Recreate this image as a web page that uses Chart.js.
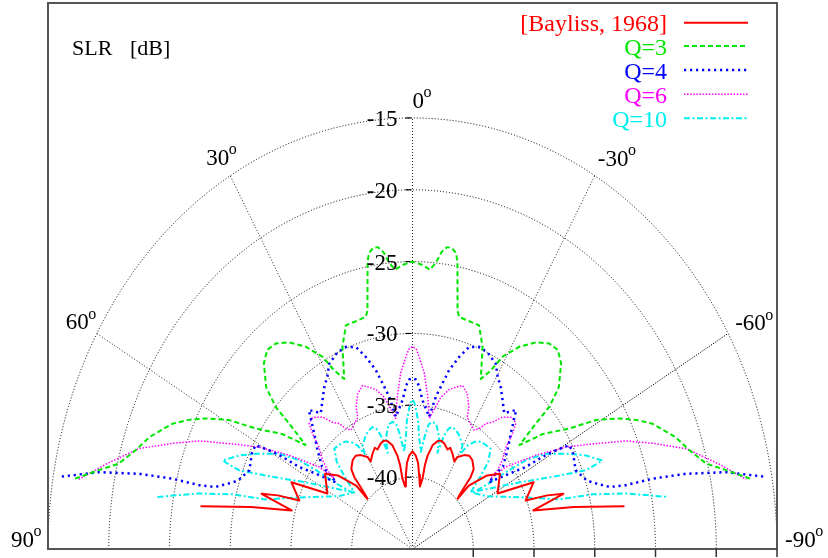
<!DOCTYPE html>
<html>
<head>
<meta charset="utf-8">
<script src="https://cdn.jsdelivr.net/npm/chart.js@4/dist/chart.umd.min.js"></script>
<style>
  html, body { margin: 0; padding: 0; background: #ffffff; }
  canvas { display: block; }
</style>
</head>
<body>
<canvas id="slr" width="828" height="558"></canvas>
<script>
// Side-lobe ratio (dB) against scan angle (deg), plotted in polar form.
// Radius is SLR measured from -45 dB at the pole; positive angles open to the left.
const R_MIN = -45;

const ringValues = [-40, -35, -30, -25, -20, -15];
const ringLabels = ['-40', '-35', '-30', '-25', '-20', '-15'];
const spokeAngles = [60, 30, 0, -30, -60];
const angleTicks = [0, 30, 60, 90, -30, -60, -90];
const angleTickLabels = ['0', '30', '60', '90', '-30', '-60', '-90'];
const seriesNames = ['[Bayliss, 1968]', 'Q=3', 'Q=4', 'Q=6', 'Q=10'];

const baylissAngle = [80.3, 77.6, 74.9, 72.8, 71.4, 70.1, 65.0, 61.1, 54.0, 50.2, 46.4, 46.7, 45.8, 44.2, 43.8, 42.2, 38.6, 35.8, 33.1, 30.0, 29.5, 26.4, 23.8, 22.6, 19.6, 17.3, 15.4, 12.9, 10.8, 9.9, 9.6, 8.0, 6.0, 4.4, 2.4,
  0,
  -2.4, -4.4, -6.0, -8.0, -9.6, -9.9, -10.8, -12.9, -15.4, -17.3, -19.6, -22.6, -23.8, -26.4, -29.5, -30.0, -33.1, -35.8, -38.6, -42.2, -43.8, -44.2, -45.8, -46.7, -46.4, -50.2, -54.0, -61.1, -65.0, -70.1, -71.4, -72.8, -74.9, -77.6, -80.3];
const baylissSlr = [-27.3, -31.4, -34.7, -32.0, -33.3, -35.1, -34.0, -37.0, -36.1, -37.0, -38.6, -39.9, -39.6, -38.5, -38.1, -37.5, -37.1, -37.0, -37.2, -37.6, -38.0, -37.6, -37.3, -37.5, -37.2, -37.1, -37.2, -37.6, -38.4, -39.1, -40.0, -40.6, -39.8, -39.0, -38.5,
  -38.2,
  -38.5, -39.0, -39.8, -40.6, -40.0, -39.1, -38.4, -37.6, -37.2, -37.1, -37.2, -37.5, -37.3, -37.6, -38.0, -37.6, -37.2, -37.0, -37.1, -37.5, -38.1, -38.5, -39.6, -39.9, -38.6, -37.0, -36.1, -37.0, -34.0, -35.1, -33.3, -32.0, -34.7, -31.4, -27.3];

const q3Angle = [80.0, 78.0, 76.2, 73.2, 70.2, 66.2, 64.0, 61.9, 59.3, 57.0, 53.3, 52.6, 50.6, 49.3, 48.7, 46.9, 43.4, 40.8, 38.2, 35.2, 32.0, 29.0, 27.4, 25.4, 22.3, 19.4, 13.4, 12.6, 10.5, 9.9, 8.8, 7.7, 6.6, 5.5, 4.2, 2.2,
  0,
  -2.2, -4.2, -5.5, -6.6, -7.7, -8.8, -9.9, -10.5, -12.6, -13.4, -19.4, -22.3, -25.4, -27.4, -29.0, -32.0, -35.2, -38.2, -40.8, -43.4, -46.9, -48.7, -49.3, -50.6, -52.6, -53.3, -57.0, -59.3, -61.9, -64.0, -66.2, -70.2, -73.2, -76.2, -78.0, -80.0];
const q3Slr = [-16.8, -18.6, -20.1, -21.2, -22.0, -23.4, -24.5, -25.7, -27.4, -29.6, -31.6, -32.2, -33.6, -31.6, -30.0, -28.5, -27.2, -26.7, -26.8, -27.4, -28.4, -29.7, -31.0, -31.9, -29.8, -28.5, -28.4, -28.0, -24.7, -24.1, -23.8, -23.8, -24.2, -25.0, -25.5, -25.2,
  -25.0,
  -25.2, -25.5, -25.0, -24.2, -23.8, -23.8, -24.1, -24.7, -28.0, -28.4, -28.5, -29.8, -31.9, -31.0, -29.7, -28.4, -27.4, -26.8, -26.7, -27.2, -28.5, -30.0, -31.6, -33.6, -32.2, -31.6, -29.6, -27.4, -25.7, -24.5, -23.4, -22.0, -21.2, -20.1, -18.6, -16.8];

const q4Angle = [80.1, 78.3, 76.9, 76.1, 75.8, 75.1, 72.6, 71.5, 67.8, 63.3, 60.8, 59.8, 59.1, 58.5, 56.6, 53.6, 52.6, 52.4, 48.7, 45.2, 41.4, 38.6, 36.2, 32.8, 30.3, 28.0, 24.4, 21.3, 18.3, 16.0, 13.6, 12.1, 10.3, 8.5, 4.5, 2.6, 1.3,
  0,
  -1.3, -2.6, -4.5, -8.5, -10.3, -12.1, -13.6, -16.0, -18.3, -21.3, -24.4, -28.0, -30.3, -32.8, -36.2, -38.6, -41.4, -45.2, -48.7, -52.4, -52.6, -53.6, -56.6, -58.5, -59.1, -59.8, -60.8, -63.3, -67.8, -71.5, -72.6, -75.1, -75.8, -76.1, -76.9, -78.3, -80.1];
const q4Slr = [-15.7, -18.6, -21.9, -24.6, -26.9, -28.2, -29.5, -29.9, -30.5, -30.2, -30.2, -31.3, -32.5, -34.1, -35.5, -37.2, -36.4, -35.6, -34.6, -33.6, -32.1, -32.9, -32.4, -31.6, -31.1, -30.4, -30.0, -29.9, -30.2, -31.1, -32.2, -33.2, -34.2, -35.7, -34.6, -33.6, -33.2,
  -33.1,
  -33.2, -33.6, -34.6, -35.7, -34.2, -33.2, -32.2, -31.1, -30.2, -29.9, -30.0, -30.4, -31.1, -31.6, -32.4, -32.9, -32.1, -33.6, -34.6, -35.6, -36.4, -37.2, -35.5, -34.1, -32.5, -31.3, -30.2, -30.2, -30.5, -29.9, -29.5, -28.2, -26.9, -24.6, -21.9, -18.6, -15.7];

const q6Angle = [80.0, 76.8, 72.8, 69.6, 66.8, 63.7, 60.7, 57.3, 53.4, 52.6, 51.9, 50.2, 47.3, 45.7, 44.2, 41.9, 38.9, 36.7, 34.6, 33.2, 31.5, 26.2, 25.2, 22.7, 19.9, 17.5, 15.2, 12.4, 8.7, 6.7, 5.4, 4.5, 2.3, 1.3,
  0,
  -1.3, -2.3, -4.5, -5.4, -6.7, -8.7, -12.4, -15.2, -17.5, -19.9, -22.7, -25.2, -26.2, -31.5, -33.2, -34.6, -36.7, -38.9, -41.9, -44.2, -45.7, -47.3, -50.2, -51.9, -52.6, -53.4, -57.3, -60.7, -63.7, -66.8, -69.6, -72.8, -76.8, -80.0];
const q6Slr = [-17.1, -19.1, -21.4, -23.9, -25.9, -28.5, -30.5, -32.9, -35.4, -36.8, -36.1, -35.4, -34.5, -33.5, -32.8, -32.7, -33.2, -34.0, -34.4, -35.0, -35.3, -34.8, -34.1, -33.3, -32.9, -33.2, -33.5, -34.2, -35.8, -34.3, -33.4, -32.7, -31.6, -31.1,
  -30.9,
  -31.1, -31.6, -32.7, -33.4, -34.3, -35.8, -34.2, -33.5, -33.2, -32.9, -33.3, -34.1, -34.8, -35.3, -35.0, -34.4, -34.0, -33.2, -32.7, -32.8, -33.5, -34.5, -35.4, -36.1, -36.8, -35.4, -32.9, -30.5, -28.5, -25.9, -23.9, -21.4, -19.1, -17.1];

const q10Angle = [80.2, 77.6, 75.6, 74.1, 69.0, 58.8, 51.6, 53.7, 55.2, 56.5, 58.8, 62.8, 65.5, 68.5, 69.0, 66.5, 62.1, 56.4, 50.6, 48.0, 45.8, 42.6, 38.8, 36.5, 34.2, 32.1, 30.8, 29.7, 25.9, 23.5, 21.2, 19.6, 18.2, 17.0, 15.9, 13.8, 12.7, 10.5, 8.8, 7.7, 6.5, 5.8, 3.9, 3.0, 1.6, 0.8,
  0,
  -0.8, -1.6, -3.0, -3.9, -5.8, -6.5, -7.7, -8.8, -10.5, -12.7, -13.8, -15.9, -17.0, -18.2, -19.6, -21.2, -23.5, -25.9, -29.7, -30.8, -32.1, -34.2, -36.5, -38.8, -42.6, -45.8, -48.0, -50.6, -56.4, -62.1, -66.5, -69.0, -68.5, -65.5, -62.8, -58.8, -56.5, -55.2, -53.7, -51.6, -58.8, -69.0, -74.1, -75.6, -77.6, -80.2];
const q10Slr = [-23.7, -27.0, -29.7, -32.4, -35.0, -37.9, -38.7, -37.5, -35.6, -33.8, -32.2, -30.5, -29.3, -28.2, -29.7, -32.4, -35.1, -37.4, -38.8, -37.5, -36.3, -35.5, -35.6, -35.7, -36.0, -36.5, -37.3, -36.7, -36.2, -36.0, -35.9, -36.1, -36.7, -38.0, -37.0, -36.4, -36.1, -36.0, -36.2, -36.8, -37.7, -38.2, -37.1, -36.1, -35.2, -34.8,
  -34.6,
  -34.8, -35.2, -36.1, -37.1, -38.2, -37.7, -36.8, -36.2, -36.0, -36.1, -36.4, -37.0, -38.0, -36.7, -36.1, -35.9, -36.0, -36.2, -36.7, -37.3, -36.5, -36.0, -35.7, -35.6, -35.5, -36.3, -37.5, -38.8, -37.4, -35.1, -32.4, -29.7, -28.2, -29.3, -30.5, -32.2, -33.8, -35.6, -37.5, -38.7, -37.9, -35.0, -32.4, -29.7, -27.0, -23.7];

// polar (angle, SLR) -> cartesian data coordinates
function polarPoints(angles, slr) {
  return angles.map((a, i) => {
    const r = slr[i] - R_MIN;
    const t = a * Math.PI / 180;
    return { x: -r * Math.sin(t), y: r * Math.cos(t) };
  });
}

const SERIF = "'Liberation Serif', 'Times New Roman', serif";

function series(label, angles, slr, color, width, dash) {
  return {
    label,
    data: polarPoints(angles, slr),
    showLine: true,
    borderColor: color,
    backgroundColor: color,
    borderWidth: width,
    borderDash: dash,
    borderCapStyle: 'butt',
    borderJoinStyle: 'round',
    pointRadius: 0,
    pointHoverRadius: 0,
    fill: false,
    tension: 0
  };
}

const datasets = [
  series(seriesNames[0], baylissAngle, baylissSlr, '#ff0000', 2, []),
  series(seriesNames[1], q3Angle, q3Slr, '#00e600', 2, [5, 3]),
  series(seriesNames[2], q4Angle, q4Slr, '#0000ff', 2.5, [2.2, 3.8]),
  series(seriesNames[3], q6Angle, q6Slr, '#ff00ff', 1.5, [1.5, 1.6]),
  series(seriesNames[4], q10Angle, q10Slr, '#00f0f0', 2, [6, 2.5, 2, 2.5])
];

// angle label placement relative to the end of each outer spoke (pixels)
const angleLabelOffset = {
  '0': [0, -10], '30': [-24, -11], '60': [-31, -4], '90': [-37, -2.5],
  '-30': [3, -10], '-60': [7, -3], '-90': [8, -2.5]
};

const polarFrame = {
  id: 'polarFrame',
  beforeDatasetsDraw(chart) {
    const { ctx, chartArea: a, scales: { x, y } } = chart;
    const cx = x.getPixelForValue(0), cy = y.getPixelForValue(0);
    const rOut = ringValues[ringValues.length - 1] - R_MIN;
    ctx.save();

    // rings
    ctx.lineWidth = 1;
    ctx.strokeStyle = '#000';
    ctx.setLineDash([1, 2]);
    ringValues.forEach(v => {
      const r = v - R_MIN;
      const rx = x.getPixelForValue(r) - cx;
      const ry = cy - y.getPixelForValue(r);
      ctx.beginPath();
      ctx.ellipse(cx, cy, rx, ry, 0, Math.PI, 2 * Math.PI);
      ctx.stroke();
    });

    // spokes
    spokeAngles.forEach(a0 => {
      const t = a0 * Math.PI / 180;
      ctx.strokeStyle = a0 === -60 ? '#000' : '#222';
      ctx.setLineDash(a0 === -60 ? [1.2, 1.4] : [1, 2]);
      ctx.beginPath();
      ctx.moveTo(cx, cy);
      ctx.lineTo(x.getPixelForValue(-rOut * Math.sin(t)), y.getPixelForValue(rOut * Math.cos(t)));
      ctx.stroke();
    });
    ctx.setLineDash([]);

    // small ticks on the broadside spoke
    ctx.strokeStyle = '#000';
    ctx.lineWidth = 1.2;
    ringValues.forEach(v => {
      const py = y.getPixelForValue(v - R_MIN);
      ctx.beginPath();
      ctx.moveTo(cx - 7, py);
      ctx.lineTo(cx - 1, py);
      ctx.stroke();
    });

    // frame
    ctx.strokeStyle = '#555';
    ctx.lineWidth = 2;
    ctx.strokeRect(a.left, a.top, a.right - a.left, a.bottom - a.top);

    // bottom ticks on the right half
    ctx.strokeStyle = '#333';
    ctx.lineWidth = 1.5;
    for (let r = 5; r <= 30; r += 5) {
      const px = x.getPixelForValue(r);
      ctx.beginPath();
      ctx.moveTo(px, a.bottom);
      ctx.lineTo(px, a.bottom + 8);
      ctx.stroke();
    }
    ctx.restore();
  },
  afterDatasetsDraw(chart) {
    const { ctx, scales: { x, y } } = chart;
    const cx = x.getPixelForValue(0);
    const rOut = ringValues[ringValues.length - 1] - R_MIN;
    ctx.save();
    ctx.fillStyle = '#000';

    // ring labels
    ctx.font = '23px ' + SERIF;
    ctx.textAlign = 'right';
    ctx.textBaseline = 'alphabetic';
    ringValues.forEach((v, i) => {
      const py = y.getPixelForValue(v - R_MIN);
      ctx.fillText(ringLabels[i], cx - 15, py + 8);
    });

    // angle labels with a raised "o"
    ctx.textAlign = 'left';
    angleTicks.forEach((a0, i) => {
      const t = a0 * Math.PI / 180;
      const ex = x.getPixelForValue(-rOut * Math.sin(t));
      const ey = y.getPixelForValue(rOut * Math.cos(t));
      const txt = angleTickLabels[i];
      const off = angleLabelOffset[txt];
      const lx = ex + off[0], ly = ey + off[1];
      ctx.font = '23px ' + SERIF;
      ctx.fillText(txt, lx, ly);
      const w = ctx.measureText(txt).width;
      ctx.font = '16px ' + SERIF;
      ctx.fillText('o', lx + w - 0.5, ly - 10.5);
    });

    // axis title
    ctx.font = '22px ' + SERIF;
    ctx.fillText('SLR', 72, 55);
    ctx.fillText('[dB]', 130, 55);

    // key
    const keyY = [22.7, 46, 70, 94.3, 118.3];
    chart.data.datasets.forEach((ds, i) => {
      ctx.font = '24px ' + SERIF;
      ctx.textAlign = 'right';
      ctx.fillStyle = ds.borderColor;
      ctx.fillText(ds.label, 667, keyY[i] + 8.5);
      ctx.strokeStyle = ds.borderColor;
      ctx.lineWidth = ds.borderWidth;
      ctx.setLineDash(ds.borderDash);
      ctx.beginPath();
      ctx.moveTo(684, keyY[i]);
      ctx.lineTo(748, keyY[i]);
      ctx.stroke();
    });
    ctx.restore();
  }
};

new Chart(document.getElementById('slr'), {
  type: 'scatter',
  data: { datasets },
  options: {
    responsive: false,
    animation: false,
    events: [],
    layout: { padding: { left: 48, right: 51, top: 3, bottom: 9 } },
    scales: {
      x: { type: 'linear', min: -30, max: 30, display: false },
      y: { type: 'linear', min: 0, max: 38, display: false }
    },
    plugins: {
      legend: { display: false },
      tooltip: { enabled: false }
    }
  },
  plugins: [polarFrame]
});
</script>
</body>
</html>
